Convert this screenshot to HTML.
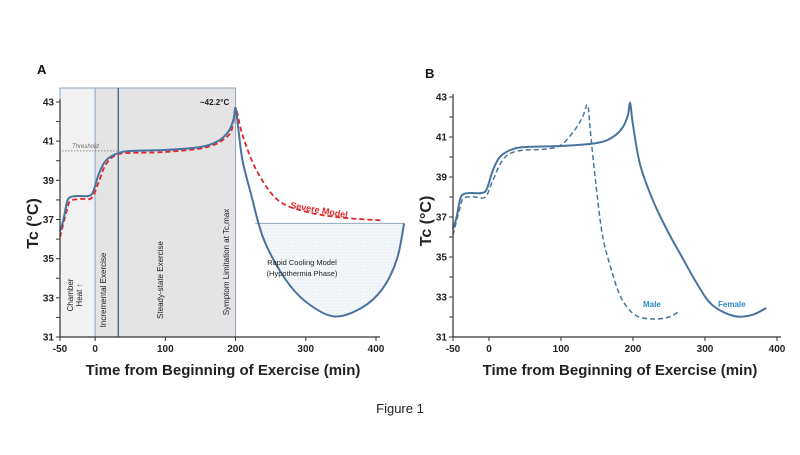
<!DOCTYPE html>
<html><head><meta charset="utf-8"><style>
body{margin:0;width:800px;height:450px;background:#fff;overflow:hidden}
text{font-family:"Liberation Sans",sans-serif}
</style></head><body>
<svg id="s" width="800" height="450" viewBox="0 0 800 450" xmlns="http://www.w3.org/2000/svg">
<defs><pattern id="dots" width="3" height="3" patternUnits="userSpaceOnUse"><rect width="3" height="3" fill="#f4f8fb"/><circle cx="1" cy="1" r="0.5" fill="#c8d6e2"/></pattern></defs>
<g id="A"></g>
<g id="B"></g>
<text x="400" y="413" font-size="13" text-anchor="middle" fill="#222">Figure 1</text>
</svg>
<script>
const NS='http://www.w3.org/2000/svg';
const xTicks=[-50,0,100,200,300,400];
const yTicks=[31,33,35,37,39,41,43];
const femaleA_t=[-50,-45,-40,-35,-25,-10,-3,5,15,30,50,100,150,175,190,197,200,204,210,222,240,270,300,340,380,410,430,440];
const femaleA_v=[36.4,37.0,37.9,38.15,38.2,38.2,38.4,39.3,40.0,40.35,40.5,40.55,40.7,41.0,41.5,42.1,42.7,41.6,40.0,38.3,36.0,34.0,32.8,32.05,32.5,33.5,35.0,36.8];
const severe_t=[-50,-40,-35,-20,-5,5,15,30,50,100,160,190,197,201,210,230,260,300,350,410];
const severe_v=[36.1,37.5,37.95,38.05,38.1,38.9,39.8,40.3,40.4,40.45,40.7,41.3,42.0,42.6,41.3,39.5,38.0,37.4,37.1,36.95];
const femaleB_t=[-50,-45,-40,-35,-25,-10,-3,5,15,30,50,100,150,172,186,193,196,200,210,228,248,268,290,310,340,365,385];
const femaleB_v=[36.4,37.0,37.9,38.15,38.2,38.2,38.4,39.3,40.0,40.35,40.5,40.55,40.7,41.0,41.5,42.1,42.7,41.6,39.6,37.8,36.3,35.0,33.6,32.6,32.05,32.1,32.45];
const male_t=[-50,-40,-35,-20,-5,5,20,40,80,100,118,130,137,141,148,157,168,183,203,228,250,265];
const male_v=[36.1,37.5,37.95,38.0,38.0,38.8,39.9,40.3,40.4,40.6,41.3,42.0,42.6,41.2,38.8,36.2,34.6,33.0,32.1,31.9,32.0,32.3];

function el(p,tag,a,txt){const e=document.createElementNS(NS,tag);for(const k in a)e.setAttribute(k,a[k]);if(txt!==undefined)e.textContent=txt;p.appendChild(e);return e;}
function mkAxes(x0,x1,y0,y1){return{x:t=>x0+(t+50)*(x1-x0)/450,y:v=>y1-(v-31)*(y1-y0)/12};}
function path(ax,ts,vs){const p=ts.map((t,i)=>[ax.x(t),ax.y(vs[i])]);let d='M'+p[0][0]+','+p[0][1];
for(let i=0;i<p.length-1;i++){const a=p[Math.max(0,i-1)],b=p[i],c=p[i+1],e=p[Math.min(p.length-1,i+2)];
d+=` C${b[0]+(c[0]-a[0])/6},${b[1]+(c[1]-a[1])/6} ${c[0]-(e[0]-b[0])/6},${c[1]-(e[1]-b[1])/6} ${c[0]},${c[1]}`;}return d;}
function axesDraw(g,ax,x0,x1,y0,y1){
 const xa=el(g,'line',{x1:x0,y1:y1,x2:x1+4,y2:y1,stroke:'#333','stroke-width':1.2});
 
 const ya=el(g,'line',{x1:x0,y1:y0-3,x2:x0,y2:y1,stroke:'#333','stroke-width':1.2});
 
 xTicks.forEach(t=>{el(g,'line',{x1:ax.x(t),x2:ax.x(t),y1:y1,y2:y1+4,stroke:'#333'});
  const l=el(g,'text',{x:ax.x(t),y:y1+15,'font-size':10,'font-weight':'bold','text-anchor':'middle',fill:'#222'},t);
  });
 for(let v=31;v<=43;v++){el(g,'line',{x1:x0-4,x2:x0,y1:ax.y(v),y2:ax.y(v),stroke:'#333'});}
 yTicks.forEach(v=>{const l=el(g,'text',{x:x0-6,y:ax.y(v)+3.5,'font-size':10,'font-weight':'bold','text-anchor':'end',fill:'#222'},v);
  });
 const xt=el(g,'text',{x:(x0+x1)/2+5,y:y1+38,'font-size':15,'font-weight':'bold','text-anchor':'middle',fill:'#222'},'Time from Beginning of Exercise (min)');
 
 const yt=el(g,'text',{transform:`translate(${x0-22},${(y0+y1)/2+4}) rotate(-90)`,'font-size':16,'font-weight':'bold','text-anchor':'middle',fill:'#222'},'Tc   (°C)');
 
}
// Panel A
(function(){const g=document.getElementById('A');const x0=60,x1=376,y0=102,y1=337;const ax=mkAxes(x0,x1,y0,y1);
 el(g,'text',{x:37,y:74,'font-size':13,'font-weight':'bold',fill:'#111'},'A');
 const r1=el(g,'rect',{x:x0,y:88,width:ax.x(0)-x0,height:y1-88,fill:'#f2f2f2',stroke:'#8fa8c0'});
 const r2=el(g,'rect',{x:ax.x(0),y:88,width:ax.x(200)-ax.x(0),height:y1-88,fill:'#e4e4e4',stroke:'#8fa8c0'});
 el(g,'line',{x1:ax.x(33),x2:ax.x(33),y1:88,y2:y1,stroke:'#4a6f94','stroke-width':1.5});
 const hy=ax.y(36.8);
 const hp=el(g,'path',{d:path(ax,femaleA_t.slice(19),femaleA_v.slice(19))+` L${ax.x(440)},${hy} L${ax.x(228)},${hy} Z`,fill:'url(#dots)',stroke:'none'});
 
 el(g,'line',{x1:ax.x(228),x2:ax.x(440),y1:hy,y2:hy,stroke:'#8fa8c0','stroke-width':1});
 el(g,'line',{x1:x0+2,x2:ax.x(31),y1:ax.y(40.5),y2:ax.y(40.5),stroke:'#555','stroke-width':0.6,'stroke-dasharray':'1.5,1.5'});
 el(g,'text',{x:72,y:ax.y(40.5)-3,'font-size':6,'font-style':'italic',fill:'#666'},'Threshold');
 const sv=el(g,'path',{d:path(ax,severe_t,severe_v),fill:'none',stroke:'#e0262b','stroke-width':1.8,'stroke-dasharray':'5,3'});
 
 const fl=el(g,'path',{d:path(ax,femaleA_t,femaleA_v),fill:'none',stroke:'#4a73a0','stroke-width':2});
 
 el(g,'text',{x:200,y:105,'font-size':8,'font-weight':'bold',fill:'#222'},'~42.2°C');
 el(g,'text',{x:290,y:208,'font-size':9,'font-weight':'bold',fill:'#e0262b',transform:'rotate(10 290 208)'},'Severe Model');
 el(g,'text',{x:302,y:265,'font-size':7.5,'text-anchor':'middle',fill:'#222'},'Rapid Cooling Model');
 el(g,'text',{x:302,y:276,'font-size':7.5,'text-anchor':'middle',fill:'#222'},'(Hypothermia Phase)');
 const vt=(x,y,s)=>el(g,'text',{transform:`translate(${x},${y}) rotate(-90)`,'font-size':8,'text-anchor':'middle',fill:'#222'},s);
 vt(73,295,'Chamber');vt(82,295,'Heat ↑');vt(106,290,'Incremental Exercise');vt(163,280,'Steady-state Exercise');vt(229,262,'Symptom Limitation at Tc,max');
 axesDraw(g,ax,x0,x1,y0,y1);})();
// Panel B
(function(){const g=document.getElementById('B');const x0=453,x1=777,y0=97,y1=337;const ax=mkAxes(x0,x1,y0,y1);
 el(g,'text',{x:425,y:78,'font-size':13,'font-weight':'bold',fill:'#111'},'B');
 const m=el(g,'path',{d:path(ax,male_t,male_v),fill:'none',stroke:'#4a73a0','stroke-width':1.5,'stroke-dasharray':'5,3'});
 
 const f=el(g,'path',{d:path(ax,femaleB_t,femaleB_v),fill:'none',stroke:'#4a73a0','stroke-width':2});
 
 const lm=el(g,'text',{x:643,y:307,'font-size':8,'font-weight':'bold',fill:'#2e86c1'},'Male');
 const lf=el(g,'text',{x:718,y:307,'font-size':8,'font-weight':'bold',fill:'#2e86c1'},'Female');
 axesDraw(g,ax,x0,x1,y0,y1);})();
</script>
</body></html>
